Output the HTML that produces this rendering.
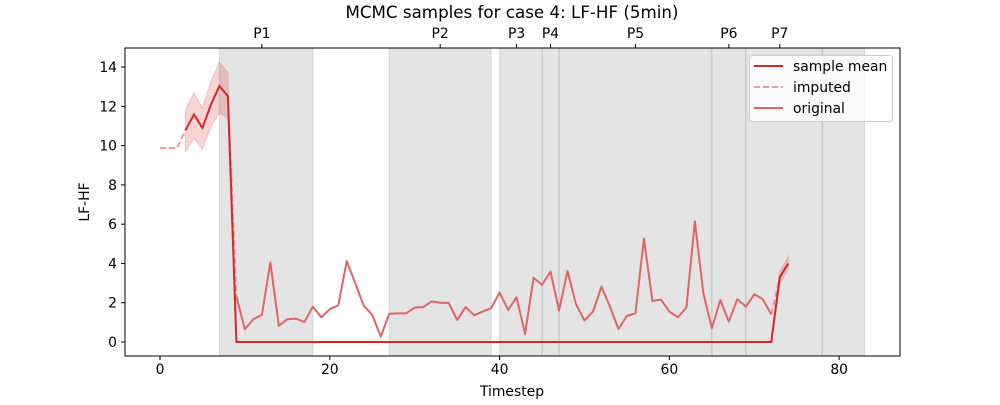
<!DOCTYPE html>
<html><head><meta charset="utf-8"><style>
body{margin:0;background:#fff;font-family:"Liberation Sans","DejaVu Sans",sans-serif}
svg text{font-family:"DejaVu Sans","Liberation Sans",sans-serif}
</style></head><body>
<svg id="chart" width="1000" height="400" xmlns="http://www.w3.org/2000/svg">
<rect width="1000" height="400" fill="#fff"/>
<g id="regions"></g>
<g id="plot"></g>
<rect x="125" y="48" width="775" height="308" fill="none" stroke="#000" stroke-width="1"/>
<g id="axes"></g>
<text x="512" y="18" text-anchor="middle" font-size="16.7">MCMC samples for case 4: LF-HF (5min)</text>
<text x="512" y="396" text-anchor="middle" font-size="13.9">Timestep</text>
<text x="89" y="202" text-anchor="middle" font-size="13.9" transform="rotate(-90 89 202)">LF-HF</text>
<g>
<rect x="749.5" y="55.5" width="143" height="66" rx="3" fill="#fff" fill-opacity="0.8" stroke="#ccc"/>
<line x1="754" y1="66" x2="783" y2="66" stroke="#d62728" stroke-width="2"/>
<text x="793" y="71" font-size="13.9">sample mean</text>
<line x1="754" y1="87" x2="783" y2="87" stroke="#ee9a9b" stroke-width="2" stroke-dasharray="6,3"/>
<text x="793" y="92" font-size="13.9">imputed</text>
<line x1="754" y1="108" x2="783" y2="108" stroke="#e06567" stroke-width="2"/>
<text x="793" y="113" font-size="13.9">original</text>
</g>
</svg>
<script>
const xTicks=[0,20,40,60,80];
const yTicks=[0,2,4,6,8,10,12,14];
const regionStarts=[7,27,40,45,47,65,69,78];
const regionEnds=[18,39,45,47,65,69,78,83];
const phaseLabels=["P1","P2","P3","P4","P5","P6","P7"];
const phasePos=[12,33,42,46,56,67,73];
const meanT=[3,4,5,6,7,8,9,72,73,74];
const meanV=[10.78,11.58,10.9,12.09,13.03,12.52,0,0,3.29,4.0];
const bandT=[3,4,5,6,7,8,9,72,73,74];
const bandHi=[11.84,12.69,11.92,13.28,14.25,13.7,0.1,0.05,3.6,4.35];
const bandLo=[9.68,10.36,9.8,10.95,11.67,11.41,-0.05,-0.05,3.0,3.7];
const origStart=9;
const origV=[2.31,0.65,1.16,1.38,4.05,0.82,1.16,1.19,1.02,1.8,1.26,1.67,1.87,4.12,3.0,1.85,1.38,0.27,1.43,1.46,1.46,1.75,1.78,2.07,2.0,1.99,1.12,1.78,1.36,1.55,1.72,2.52,1.63,2.28,0.41,3.27,2.91,3.59,1.6,3.62,1.92,1.09,1.55,2.82,1.8,0.66,1.33,1.46,5.27,2.09,2.16,1.55,1.26,1.75,6.14,2.48,0.7,2.14,1.04,2.18,1.8,2.43,2.18,1.4];
const impT1=[0,1,2,3];const impV1=[9.87,9.87,9.87,10.78];
const impT2=[8,9];const impV2=[12.52,2.31];
const impT3=[72,73];const impV3=[1.4,3.29];

const X=t=>160+t*8.49;
const Y=v=>342-v*19.64;
const NS="http://www.w3.org/2000/svg";
function mk(parent,tag,attrs){const e=document.createElementNS(NS,tag);for(const k in attrs)e.setAttribute(k,attrs[k]);parent.appendChild(e);return e;}
const R=document.getElementById('regions'),P=document.getElementById('plot'),A=document.getElementById('axes');
for(let i=0;i<regionStarts.length;i++){
 const r=mk(R,'rect',{x:X(regionStarts[i]),y:48,width:X(regionEnds[i])-X(regionStarts[i]),height:308,fill:'#e4e4e4'});
 
 
}
const edges=[...new Set(regionStarts.concat(regionEnds))];
edges.forEach(t=>{const shared=regionStarts.includes(t)&&regionEnds.includes(t);
 const l=mk(R,'line',{x1:X(t),x2:X(t),y1:48,y2:356,stroke:shared?'#bdbdbd':'#d6d6d6','stroke-width':1});
 
 });
function pts(ts,vs){return ts.map((t,i)=>X(t)+','+Y(vs[i])).join(' ');}
// band split into two segments
function band(a,b){let s='';for(let i=a;i<=b;i++)s+=(i==a?'M':'L')+X(bandT[i])+','+Y(bandHi[i]);for(let i=b;i>=a;i--)s+='L'+X(bandT[i])+','+Y(bandLo[i]);return s+'Z';}
const b1=mk(P,'path',{d:band(0,6),fill:'rgba(214,39,40,0.2)',stroke:'rgba(214,39,40,0.2)'});


const b2=mk(P,'path',{d:band(7,9),fill:'rgba(214,39,40,0.2)',stroke:'rgba(214,39,40,0.2)'});


[[impT1,impV1],[impT2,impV2],[impT3,impV3]].forEach(([t,v])=>{
 const l=mk(P,'polyline',{points:pts(t,v),fill:'none',stroke:'#ee9a9b','stroke-width':2,'stroke-dasharray':'6,3'});
 
 });
const oT=origV.map((_,i)=>origStart+i);
const o=mk(P,'polyline',{points:pts(oT,origV),fill:'none',stroke:'#e06567','stroke-width':2,'stroke-linejoin':'round'});


const m=mk(P,'polyline',{points:pts(meanT,meanV),fill:'none',stroke:'#d62728','stroke-width':2});


xTicks.forEach(t=>{const l=mk(A,'line',{x1:X(t),x2:X(t),y1:356,y2:360,stroke:'#000'});
 
 
 const tx=mk(A,'text',{x:X(t),y:374,'text-anchor':'middle','font-size':13.9});tx.textContent=t;
 
 });
yTicks.forEach(v=>{const l=mk(A,'line',{x1:121,x2:125,y1:Y(v),y2:Y(v),stroke:'#000'});
 
 
 const tx=mk(A,'text',{x:117,y:Y(v)+5,'text-anchor':'end','font-size':13.9});tx.textContent=v;
 
 });
phaseLabels.forEach((s,i)=>{const l=mk(A,'line',{x1:X(phasePos[i]),x2:X(phasePos[i]),y1:44,y2:48,stroke:'#000'});
 
 
 const tx=mk(A,'text',{x:X(phasePos[i]),y:38,'text-anchor':'middle','font-size':13.9});tx.textContent=s;
 
 });
</script>
</body></html>
